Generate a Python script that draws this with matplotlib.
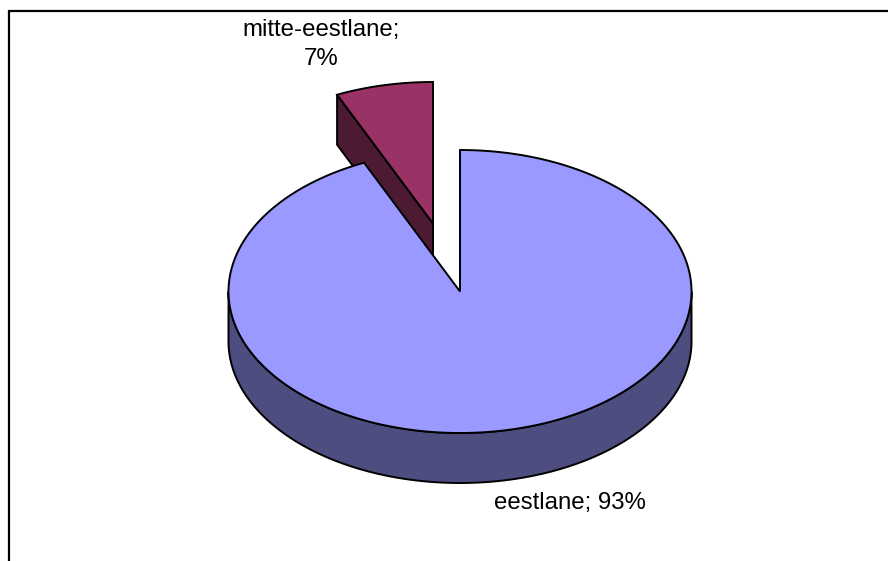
import numpy as np
import matplotlib
matplotlib.use("Agg")
import matplotlib.pyplot as plt
from matplotlib.patches import Polygon

categories = ["eestlane", "mitte-eestlane"]
values = [93.2, 6.8]
value_labels = ["93%", "7%"]

plt.rcParams['font.family'] = ['Liberation Sans', 'DejaVu Sans']

fig = plt.figure(figsize=(8.88, 5.61), dpi=100, facecolor='white')
ax = fig.add_axes([0, 0, 1, 1])
ax.set_xlim(0, 888)
ax.set_ylim(561, 0)
ax.axis('off')

RX, RY, DEPTH = 231.5, 141.5, 50.0
fractions = np.array(values) / sum(values)
EDGE = dict(edgecolor='black', linewidth=1.4, joinstyle='miter')


def arc(cx, cy, t0, t1, dy=0.0, n=200):
    t = np.linspace(t0, t1, n)
    return np.column_stack([cx + RX * np.sin(t), cy - RY * np.cos(t) + dy])


# chart frame
ax.plot([9, 9, 888], [561, 11, 11], color='black', lw=1.6, solid_joinstyle='miter', zorder=0)

# exploded slice (drawn first: the main slice overlaps it)
cx2, cy2 = 433.0, 223.5
t_start = 2 * np.pi * (1 - fractions[1])
p_left = arc(cx2, cy2, t_start, t_start, n=1)[0]
side = np.array([p_left, [cx2, cy2], [cx2, cy2 + DEPTH], p_left + [0, DEPTH]])
ax.add_patch(Polygon(side, closed=True, facecolor='#4D1A33', zorder=2, **EDGE))
top = np.vstack([[[cx2, cy2]], arc(cx2, cy2, t_start, 2 * np.pi)])
ax.add_patch(Polygon(top, closed=True, facecolor='#993366', zorder=3, **EDGE))

# main slice
cx1, cy1 = 460.0, 291.5
t_end = 2 * np.pi * fractions[0]
wall_top = arc(cx1, cy1, np.pi / 2, 3 * np.pi / 2)
wall_bottom = arc(cx1, cy1, 3 * np.pi / 2, np.pi / 2, dy=DEPTH)
ax.add_patch(Polygon(np.vstack([wall_top, wall_bottom]), closed=True,
                     facecolor='#4D4D80', zorder=4, **EDGE))
face = np.vstack([[[cx1, cy1]], arc(cx1, cy1, 0, t_end, n=400)])
ax.add_patch(Polygon(face, closed=True, facecolor='#9999FF', zorder=5, **EDGE))

# data labels
ax.text(569.5, 502.5, f"{categories[0]}; {value_labels[0]}", fontsize=17.3,
        ha='center', va='center', color='black', zorder=6)
ax.text(321, 44.5, f"{categories[1]};\n{value_labels[1]}", fontsize=17.3,
        ha='center', va='center', color='black', linespacing=1.42, zorder=6)

fig.savefig('out.png', dpi=100, facecolor='white')
